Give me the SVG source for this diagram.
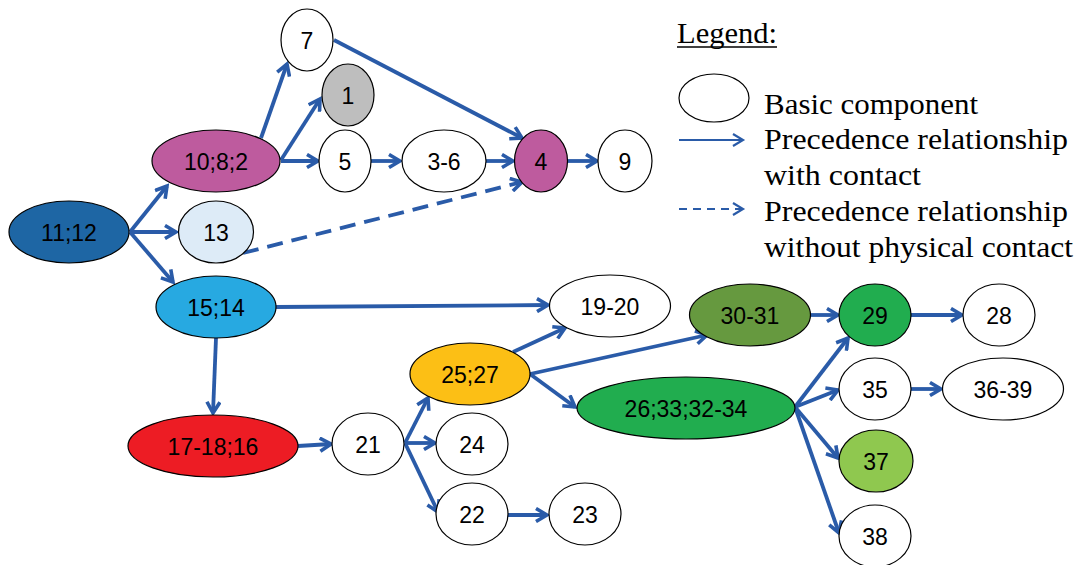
<svg xmlns="http://www.w3.org/2000/svg" width="1079" height="565" viewBox="0 0 1079 565">
<style>
.n{stroke:#000;stroke-width:1.2}
.t{font-family:"Liberation Sans",Arial,sans-serif;font-size:23px;fill:#000;text-anchor:middle;dominant-baseline:central}
.c{stroke:#2A5BA8;stroke-width:3.8;fill:none}
.d{stroke-dasharray:16,9}
.lg{font-family:"Liberation Serif","Times New Roman",serif;font-size:29px;fill:#000}
</style>
<defs>
<marker id="ah" viewBox="0 0 16 16" refX="13" refY="8" markerWidth="16" markerHeight="16" markerUnits="userSpaceOnUse" orient="auto">
<path d="M2,1.5 L13,8 L2,14.5" fill="none" stroke="#2A5BA8" stroke-width="3.6"/>
</marker>
<marker id="ahs" viewBox="0 0 16 16" refX="13" refY="8" markerWidth="16" markerHeight="16" markerUnits="userSpaceOnUse" orient="auto">
<path d="M3,2 L13,8 L3,14" fill="none" stroke="#2A5BA8" stroke-width="2.2"/>
</marker>
</defs>
<rect width="1079" height="565" fill="#fff"/>
<g id="connectors">
<line class="c" x1="130" y1="232" x2="167" y2="186" marker-end="url(#ah)"/>
<line class="c" x1="130" y1="232" x2="176" y2="232" marker-end="url(#ah)"/>
<line class="c" x1="130" y1="232" x2="173" y2="282" marker-end="url(#ah)"/>
<line class="c" x1="261" y1="138" x2="287" y2="64" marker-end="url(#ah)"/>
<line class="c" x1="281" y1="160" x2="320" y2="99" marker-end="url(#ah)"/>
<line class="c" x1="281" y1="161" x2="318" y2="161" marker-end="url(#ah)"/>
<line class="c" x1="371" y1="161" x2="400" y2="161" marker-end="url(#ah)"/>
<line class="c" x1="486" y1="161" x2="513" y2="161" marker-end="url(#ah)"/>
<line class="c" x1="334" y1="40" x2="522" y2="138" marker-end="url(#ah)"/>
<line class="c d" x1="243" y1="253" x2="522" y2="182" marker-end="url(#ah)"/>
<line class="c" x1="568" y1="161" x2="597" y2="161" marker-end="url(#ah)"/>
<line class="c" x1="276" y1="307" x2="548" y2="305" marker-end="url(#ah)"/>
<line class="c" x1="216" y1="338" x2="213" y2="413" marker-end="url(#ah)"/>
<line class="c" x1="298" y1="446" x2="331" y2="444" marker-end="url(#ah)"/>
<line class="c" x1="405" y1="443" x2="428" y2="398" marker-end="url(#ah)"/>
<line class="c" x1="405" y1="443" x2="435" y2="443" marker-end="url(#ah)"/>
<line class="c" x1="405" y1="443" x2="438" y2="512" marker-end="url(#ah)"/>
<line class="c" x1="508" y1="515" x2="547" y2="515" marker-end="url(#ah)"/>
<line class="c" x1="513" y1="352" x2="565" y2="328" marker-end="url(#ah)"/>
<line class="c" x1="530" y1="374" x2="707" y2="335" marker-end="url(#ah)"/>
<line class="c" x1="530" y1="374" x2="575" y2="407" marker-end="url(#ah)"/>
<line class="c" x1="811" y1="315" x2="838" y2="315" marker-end="url(#ah)"/>
<line class="c" x1="911" y1="315" x2="962" y2="315" marker-end="url(#ah)"/>
<line class="c" x1="795" y1="407" x2="848" y2="338" marker-end="url(#ah)"/>
<line class="c" x1="795" y1="407" x2="838" y2="390" marker-end="url(#ah)"/>
<line class="c" x1="911" y1="389" x2="941" y2="389" marker-end="url(#ah)"/>
<line class="c" x1="795" y1="407" x2="838" y2="458" marker-end="url(#ah)"/>
<line class="c" x1="795" y1="407" x2="839" y2="533" marker-end="url(#ah)"/>
</g>
<g id="n7"><ellipse class="n" cx="307" cy="40" rx="26" ry="31" fill="#fff"/><text class="t" x="307" y="41">7</text></g>
<g id="n1"><ellipse class="n" cx="348" cy="95" rx="26" ry="31" fill="#BEBEBE"/><text class="t" x="348" y="96">1</text></g>
<g id="n10-8-2"><ellipse class="n" cx="216" cy="161" rx="64" ry="31" fill="#BE5B9E"/><text class="t" x="216" y="162">10;8;2</text></g>
<g id="n5"><ellipse class="n" cx="345" cy="161" rx="26" ry="31" fill="#fff"/><text class="t" x="345" y="162">5</text></g>
<g id="n3-6"><ellipse class="n" cx="444" cy="161" rx="42" ry="31" fill="#fff"/><text class="t" x="444" y="162">3-6</text></g>
<g id="n4"><ellipse class="n" cx="541" cy="161" rx="26.5" ry="31" fill="#BE5B9E"/><text class="t" x="541" y="162">4</text></g>
<g id="n9"><ellipse class="n" cx="625" cy="161" rx="27" ry="31" fill="#fff"/><text class="t" x="625" y="162">9</text></g>
<g id="n11-12"><ellipse class="n" cx="69" cy="232" rx="60" ry="31" fill="#1E66A4"/><text class="t" x="69" y="233">11;12</text></g>
<g id="n13"><ellipse class="n" cx="216" cy="232" rx="37.5" ry="31" fill="#DDEBF7"/><text class="t" x="216" y="233">13</text></g>
<g id="n15-14"><ellipse class="n" cx="216" cy="307" rx="60" ry="31" fill="#27A9E1"/><text class="t" x="216" y="308">15;14</text></g>
<g id="n17-18-16"><ellipse class="n" cx="213" cy="446" rx="85" ry="31" fill="#ED1C24"/><text class="t" x="213" y="447">17-18;16</text></g>
<g id="n21"><ellipse class="n" cx="368" cy="444" rx="36" ry="31" fill="#fff"/><text class="t" x="368" y="445">21</text></g>
<g id="n25-27"><ellipse class="n" cx="470" cy="374" rx="60" ry="31" fill="#FCBF15"/><text class="t" x="470" y="375">25;27</text></g>
<g id="n24"><ellipse class="n" cx="472" cy="444" rx="36" ry="31" fill="#fff"/><text class="t" x="472" y="445">24</text></g>
<g id="n22"><ellipse class="n" cx="472" cy="514" rx="36" ry="31" fill="#fff"/><text class="t" x="472" y="515">22</text></g>
<g id="n23"><ellipse class="n" cx="585" cy="514" rx="36" ry="31" fill="#fff"/><text class="t" x="585" y="515">23</text></g>
<g id="n19-20"><ellipse class="n" cx="610" cy="306" rx="60.5" ry="31" fill="#fff"/><text class="t" x="610" y="307">19-20</text></g>
<g id="n30-31"><ellipse class="n" cx="750" cy="315" rx="60.5" ry="31" fill="#66993F"/><text class="t" x="750" y="316">30-31</text></g>
<g id="n29"><ellipse class="n" cx="875" cy="315" rx="36" ry="31" fill="#21AD4F"/><text class="t" x="875" y="316">29</text></g>
<g id="n28"><ellipse class="n" cx="999" cy="315" rx="36" ry="31" fill="#fff"/><text class="t" x="999" y="316">28</text></g>
<g id="n26-33-32-34"><ellipse class="n" cx="686" cy="408" rx="109" ry="31" fill="#21AD4F"/><text class="t" x="686" y="409">26;33;32-34</text></g>
<g id="n35"><ellipse class="n" cx="875" cy="389" rx="36" ry="31" fill="#fff"/><text class="t" x="875" y="390">35</text></g>
<g id="n36-39"><ellipse class="n" cx="1003" cy="389" rx="60.5" ry="31" fill="#fff"/><text class="t" x="1003" y="390">36-39</text></g>
<g id="n37"><ellipse class="n" cx="876" cy="461" rx="37" ry="31" fill="#8FC84F"/><text class="t" x="876" y="462">37</text></g>
<g id="n38"><ellipse class="n" cx="875" cy="536" rx="36" ry="31" fill="#fff"/><text class="t" x="875" y="537">38</text></g>
<g id="legend">
<text class="lg" x="677" y="43" textLength="100" lengthAdjust="spacingAndGlyphs">Legend:</text>
<line x1="677" y1="47" x2="777" y2="47" stroke="#000" stroke-width="1.5"/>
<ellipse class="n" cx="714" cy="98" rx="35" ry="24" fill="#fff"/>
<line x1="679" y1="140" x2="743" y2="140" stroke="#2A5BA8" stroke-width="2.2" marker-end="url(#ahs)"/>
<line x1="679" y1="209" x2="743" y2="209" stroke="#2A5BA8" stroke-width="2.2" stroke-dasharray="8,6" marker-end="url(#ahs)"/>
<text class="lg" x="764" y="114" textLength="214" lengthAdjust="spacingAndGlyphs">Basic component</text>
<text class="lg" x="764" y="149" textLength="304" lengthAdjust="spacingAndGlyphs">Precedence relationship</text>
<text class="lg" x="764" y="185" textLength="157" lengthAdjust="spacingAndGlyphs">with contact</text>
<text class="lg" x="764" y="221" textLength="304" lengthAdjust="spacingAndGlyphs">Precedence relationship</text>
<text class="lg" x="764" y="257" textLength="309" lengthAdjust="spacingAndGlyphs">without physical contact</text>
</g>
</svg>
